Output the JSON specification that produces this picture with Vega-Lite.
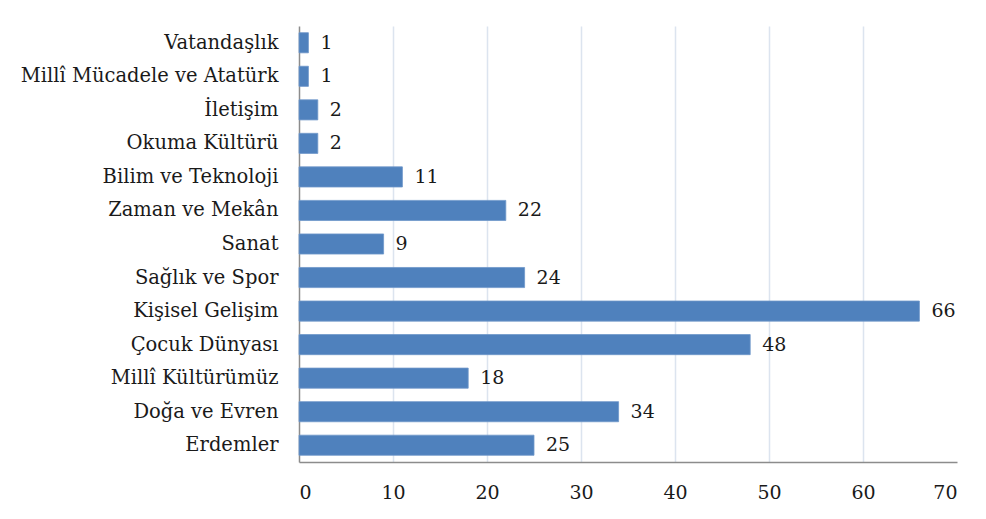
{
  "$schema": "https://vega.github.io/schema/vega-lite/v6.json",
  "autosize": {"type": "none"},
  "padding": {"left": 299, "top": 26, "right": 28, "bottom": 57},
  "width": 658,
  "height": 436,
  "background": "white",
  "config": {
    "font": "DejaVu Serif",
    "view": {"stroke": null}
  },
  "data": {
    "values": [
      {"category": "Vatandaşlık", "value": 1},
      {"category": "Millî Mücadele ve Atatürk", "value": 1},
      {"category": "İletişim", "value": 2},
      {"category": "Okuma Kültürü", "value": 2},
      {"category": "Bilim ve Teknoloji", "value": 11},
      {"category": "Zaman ve Mekân", "value": 22},
      {"category": "Sanat", "value": 9},
      {"category": "Sağlık ve Spor", "value": 24},
      {"category": "Kişisel Gelişim", "value": 66},
      {"category": "Çocuk Dünyası", "value": 48},
      {"category": "Millî Kültürümüz", "value": 18},
      {"category": "Doğa ve Evren", "value": 34},
      {"category": "Erdemler", "value": 25}
    ]
  },
  "encoding": {
    "y": {
      "field": "category",
      "type": "nominal",
      "sort": null,
      "scale": {"paddingInner": 0.4, "paddingOuter": 0.2},
      "axis": {
        "title": null,
        "ticks": false,
        "labelFont": "DejaVu Serif",
        "labelFontSize": 19.5,
        "labelColor": "#1a1a1a",
        "labelPadding": 21,
        "domainColor": "#8c8c8c",
        "domainWidth": 1.5,
        "labelLimit": 400
      }
    },
    "x": {
      "field": "value",
      "type": "quantitative",
      "scale": {"domain": [0, 70], "nice": false},
      "axis": {
        "title": null,
        "values": [0, 10, 20, 30, 40, 50, 60, 70],
        "ticks": false,
        "labelFont": "DejaVu Serif",
        "labelFontSize": 19,
        "labelColor": "#1a1a1a",
        "labelPadding": 21,
        "domainColor": "#8c8c8c",
        "domainWidth": 1.5,
        "gridColor": {"condition": {"test": "datum.value == 0 || datum.value == 70", "value": "transparent"}, "value": "#dce4ef"},
        "gridWidth": 1.5
      }
    }
  },
  "layer": [
    {
      "mark": {"type": "bar", "color": "#4f81bd", "stroke": "#6f97c9", "strokeWidth": 0.8}
    },
    {
      "mark": {"type": "text", "align": "left", "baseline": "middle", "dx": 12, "fontSize": 19, "font": "DejaVu Serif", "color": "#1a1a1a"},
      "encoding": {"text": {"field": "value", "type": "quantitative"}}
    }
  ]
}
